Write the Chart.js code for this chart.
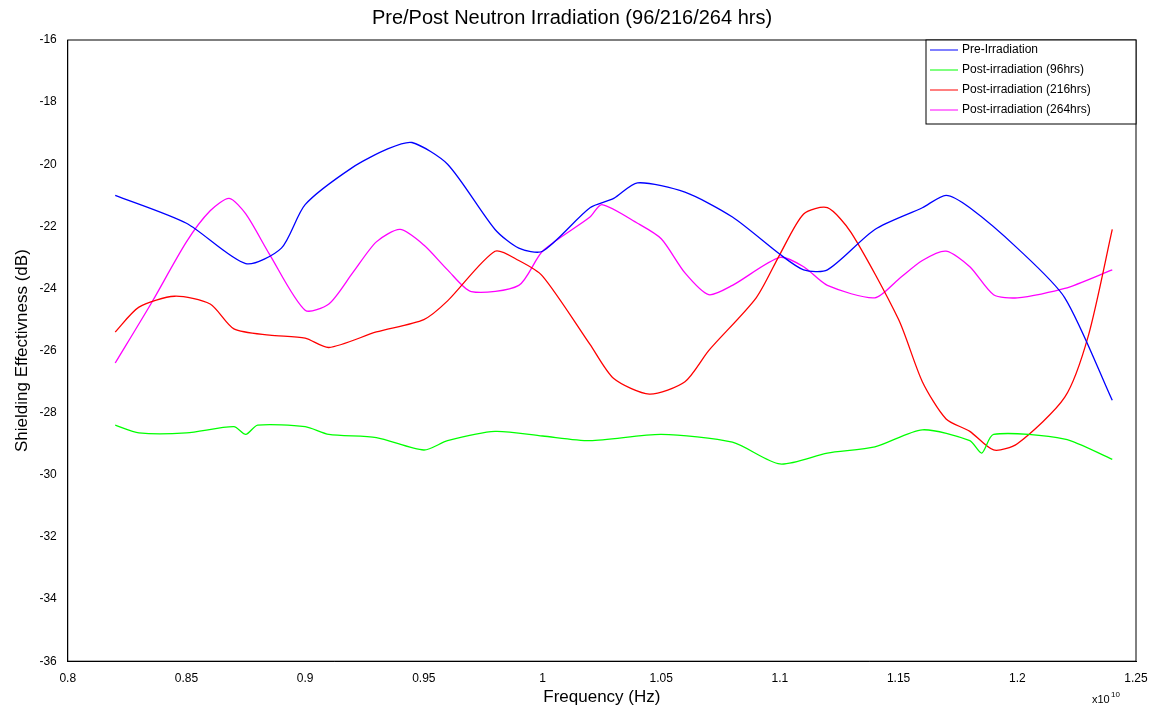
<!DOCTYPE html>
<html><head><meta charset="utf-8">
<script src="https://cdn.jsdelivr.net/npm/chart.js@4"></script>
<style>body{margin:0;background:#fff}#wrap{width:1156px;height:712px}</style>
</head><body><div id="wrap"><canvas id="c"></canvas></div>
<script>
var freqPre = [0.82,0.85,0.875,0.89,0.9,0.92,0.935,0.945,0.96,0.98,0.99,1.0,1.02,1.03,1.04,1.06,1.08,1.1,1.11,1.12,1.14,1.16,1.17,1.18,1.2,1.22,1.24];
var pre = [-21.0,-21.9,-23.2,-22.7,-21.3,-20.1,-19.5,-19.3,-20.0,-22.1,-22.7,-22.8,-21.4,-21.1,-20.6,-20.9,-21.7,-22.9,-23.4,-23.4,-22.1,-21.4,-21.0,-21.4,-22.7,-24.3,-27.6];
var freq96 = [0.82,0.83,0.85,0.87,0.875,0.88,0.9,0.91,0.93,0.95,0.96,0.98,1.0,1.02,1.05,1.08,1.1,1.12,1.14,1.16,1.18,1.185,1.19,1.22,1.24];
var post96 = [-28.4,-28.65,-28.65,-28.45,-28.7,-28.4,-28.45,-28.7,-28.8,-29.2,-28.9,-28.6,-28.75,-28.9,-28.7,-28.95,-29.65,-29.3,-29.1,-28.55,-28.9,-29.3,-28.7,-28.85,-29.5];
var freq216 = [0.82,0.83,0.845,0.86,0.87,0.885,0.9,0.91,0.93,0.95,0.96,0.98,0.99,1.0,1.02,1.03,1.045,1.06,1.07,1.09,1.1,1.11,1.12,1.13,1.15,1.16,1.17,1.18,1.19,1.2,1.22,1.23,1.24];
var post216 = [-25.4,-24.6,-24.25,-24.5,-25.3,-25.5,-25.6,-25.9,-25.4,-25.0,-24.4,-22.8,-23.1,-23.6,-25.8,-26.9,-27.4,-27.0,-26.0,-24.3,-22.9,-21.6,-21.4,-22.2,-25.0,-27.0,-28.2,-28.6,-29.2,-29.0,-27.5,-25.5,-22.1];
var freq264 = [0.82,0.835,0.85,0.86,0.868,0.875,0.885,0.9,0.91,0.92,0.93,0.94,0.95,0.96,0.97,0.99,1.0,1.02,1.025,1.04,1.05,1.06,1.07,1.08,1.1,1.11,1.12,1.14,1.15,1.16,1.17,1.18,1.19,1.2,1.22,1.24];
var post264 = [-26.4,-24.5,-22.5,-21.5,-21.1,-21.6,-22.9,-24.7,-24.5,-23.5,-22.5,-22.1,-22.6,-23.4,-24.1,-23.9,-22.8,-21.7,-21.3,-21.9,-22.4,-23.5,-24.2,-23.9,-23.0,-23.3,-23.9,-24.3,-23.7,-23.1,-22.8,-23.3,-24.2,-24.3,-24.0,-23.4];

function pts(xs, ys) { return xs.map((x, i) => ({ x: x, y: ys[i] })); }
function ds(label, xs, ys, color) {
    return { label: label, data: pts(xs, ys), borderColor: color, backgroundColor: color, borderWidth: 1.3, pointRadius: 0, tension: 0.25, fill: false };
}

var frame = {
    id: 'frame',
    afterDraw(chart) {
        var ctx = chart.ctx, a = chart.chartArea;
        ctx.save();
        ctx.strokeStyle = '#000'; ctx.lineWidth = 1;
        ctx.strokeRect(a.left, a.top, a.right - a.left, a.bottom - a.top);
        // legend box, top-right inside plot
        var w = 210, h = 84, lx = a.right - w, ly = a.top;
        ctx.fillStyle = '#fff'; ctx.fillRect(lx, ly, w, h);
        ctx.strokeRect(lx, ly, w, h);
        ctx.font = '12px Arial, "Liberation Sans"'; ctx.textBaseline = 'middle';
        chart.data.datasets.forEach((d, i) => {
            var yy = ly + 10 + i * 20;
            ctx.strokeStyle = d.borderColor; ctx.beginPath();
            ctx.moveTo(lx + 4, yy); ctx.lineTo(lx + 32, yy); ctx.stroke();
            ctx.fillStyle = '#000'; ctx.fillText(d.label, lx + 36, yy);
        });
        ctx.fillStyle = '#000'; ctx.textBaseline = 'alphabetic';
        ctx.font = '11px Arial, "Liberation Sans"';
        ctx.fillText('x10', a.right - 44, a.bottom + 42);
        ctx.font = '8px Arial, "Liberation Sans"';
        ctx.fillText('10', a.right - 25, a.bottom + 36);
        ctx.restore();
    }
};

new Chart(document.getElementById('c'), {
    type: 'line',
    data: { datasets: [
        ds('Pre-Irradiation', freqPre, pre, '#0000ff'),
        ds('Post-irradiation (96hrs)', freq96, post96, '#00ff00'),
        ds('Post-irradiation (216hrs)', freq216, post216, '#ff0000'),
        ds('Post-irradiation (264hrs)', freq264, post264, '#ff00ff')
    ] },
    options: {
        responsive: true, maintainAspectRatio: false, animation: false,
        layout: { padding: { left: 8, right: 20, top: 0, bottom: 4 } },
        plugins: {
            title: { display: true, text: 'Pre/Post Neutron Irradiation (96/216/264 hrs)', color: '#000', font: { family: 'Arial, "Liberation Sans"', size: 20, weight: 'normal' }, padding: { top: 6, bottom: 10 } },
            legend: { display: false },
            tooltip: { enabled: false }
        },
        scales: {
            x: { type: 'linear', min: 0.8, max: 1.25,
                grid: { display: false }, border: { color: '#000' },
                ticks: { stepSize: 0.05, padding: 2, color: '#000', font: { family: 'Arial, "Liberation Sans"', size: 12 }, callback: v => +v.toFixed(2) },
                title: { display: true, text: 'Frequency (Hz)', color: '#000', font: { family: 'Arial, "Liberation Sans"', size: 17 }, padding: 0 } },
            y: { min: -36, max: -16,
                grid: { display: false }, border: { color: '#000' },
                ticks: { stepSize: 2, color: '#000', font: { family: 'Arial, "Liberation Sans"', size: 12 } },
                title: { display: true, text: 'Shielding Effectivness (dB)', color: '#000', font: { family: 'Arial, "Liberation Sans"', size: 17 } } }
        }
    },
    plugins: [frame]
});
</script></body></html>
